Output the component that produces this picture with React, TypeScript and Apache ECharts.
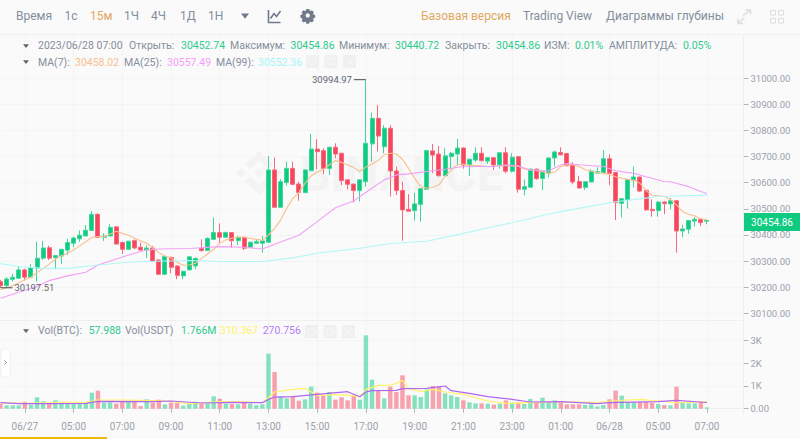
import React, { useEffect, useRef } from "react";
import * as echarts from "echarts";

const tickLabels = ["06/27","05:00","07:00","09:00","11:00","13:00","15:00","17:00","19:00","21:00","23:00","01:00","06/28","05:00","07:00"];
const priceTicks = [30100,30200,30300,30400,30500,30600,30700,30800,30900,31000];
const volumeTicks = [0,1000,2000,3000];
const lastPrice = 30454.86;

// [open, close, low, high]
const candles: number[][] = [
[30221,30205,30197.51,30228],[30206,30231,30200,30238],[30230,30238,30221,30251],[30234,30266,30231,30281],[30266,30238,30225,30271],
[30238,30275,30236,30288],[30272,30311,30221,30374],[30311,30350,30304,30377],[30351,30311,30304,30359],[30313,30321,30268,30322],
[30319,30345,30288,30346],[30342,30371,30323,30385],[30368,30388,30353,30394],[30385,30399,30374,30417],[30396,30418,30395,30438],
[30417,30479,30415,30492],[30479,30391,30390,30483],[30391,30396,30377,30406],[30396,30429,30395,30441],[30431,30365,30364,30432],
[30371,30345,30327,30374],[30345,30376,30344,30377],[30378,30350,30345,30383],[30353,30342,30341,30371],[30342,30350,30311,30360],
[30350,30298,30296,30358],[30304,30249,30247,30306],[30249,30317,30247,30320],[30314,30276,30253,30317],[30281,30245,30230,30284],
[30243,30261,30230,30262],[30266,30316,30265,30317],[30281,30310,30268,30314],[30349,30340,30336,30383],[30340,30387,30339,30391],
[30383,30409,30382,30467],[30409,30391,30370,30444],[30391,30409,30390,30413],[30409,30378,30351,30410],[30378,30391,30361,30396],
[30391,30349,30342,30393],[30353,30372,30349,30374],[30368,30374,30365,30381],[30368,30377,30332,30396],[30372,30649,30371,30702],
[30649,30506,30505,30697],[30506,30604,30505,30613],[30601,30655,30589,30681],[30655,30594,30591,30681],[30595,30563,30531,30604],
[30562,30649,30561,30651],[30646,30729,30645,30787],[30729,30719,30651,30767],[30723,30655,30633,30732],[30655,30736,30630,30738],
[30736,30710,30694,30751],[30713,30608,30591,30715],[30611,30594,30575,30612],[30595,30570,30524,30596],[30570,30611,30528,30612],
[30604,30751,30585,30994.97],[30749,30847,30681,30869],[30847,30779,30719,30898],[30738,30809,30713,30821],[30809,30645,30547,30821],
[30645,30570,30553,30662],[30570,30496,30378,30604],[30498,30491,30490,30556],[30493,30519,30455,30562],[30517,30577,30451,30578],
[30575,30723,30574,30726],[30722,30706,30636,30749],[30710,30627,30623,30741],[30627,30703,30626,30732],[30700,30713,30654,30718],
[30710,30733,30668,30768],[30733,30668,30654,30736],[30668,30690,30626,30693],[30687,30713,30680,30736],[30713,30685,30681,30736],
[30683,30696,30672,30697],[30696,30668,30649,30697],[30668,30715,30654,30716],[30715,30644,30636,30736],[30644,30698,30639,30713],
[30700,30575,30562,30701],[30575,30585,30552,30613],[30583,30652,30582,30654],[30652,30616,30611,30654],[30616,30643,30572,30646],
[30636,30695,30621,30696],[30695,30718,30662,30723],[30716,30707,30705,30736],[30712,30665,30664,30713],[30669,30603,30594,30679],
[30605,30580,30577,30626],[30582,30604,30572,30605],[30603,30645,30601,30651],[30637,30642,30636,30659],[30639,30692,30638,30725],
[30692,30636,30591,30709],[30639,30524,30457,30640],[30521,30539,30467,30540],[30536,30613,30501,30614],[30610,30622,30582,30662],
[30622,30568,30564,30623],[30571,30496,30493,30572],[30498,30493,30470,30536],[30493,30526,30470,30529],[30526,30520,30480,30529],
[30519,30531,30498,30542],[30531,30415,30332,30532],[30415,30423,30391,30439],[30422,30455,30404,30457],[30453,30460,30432,30468],
[30460,30447,30434,30464],[30452.74,30454.86,30440.72,30454.86],
];

const volumes = [220,146,146,146,307,176,498,322,234,366,234,220,220,220,220,703,790,264,278,220,293,293,293,117,410,264,395,190,264,264,132,205,307,234,234,542,439,220,205,190,264,220,146,190,2416,1610,527,454,556,351,410,966,703,586,732,395,498,366,586,395,3221,1274,790,454,966,732,1464,586,586,512,849,996,996,673,586,512,366,278,234,234,220,176,220,366,264,264,205,425,264,483,278,366,264,190,190,190,161,190,102,161,410,790,571,293,278,293,293,264,205,161,146,966,293,234,234,293,58];

const ma7 = [30190,30198,30205,30217,30228,30238,30256,30271,30288,30307,30320,30330,30342,30358,30374,30390,30394,30392,30404,30414,30406,30399,30387,30378,30368,30350,30332,30319,30312,30295,30284,30285,30291,30310,30327,30345,30368,30381,30387,30391,30391,30387,30383,30379,30400,30425,30457,30502,30540,30562,30598,30626,30642,30651,30668,30685,30678,30668,30658,30643,30660,30672,30685,30707,30713,30710,30690,30655,30617,30585,30579,30583,30592,30624,30649,30668,30672,30668,30666,30664,30662,30663,30664,30666,30664,30664,30653,30649,30646,30642,30636,30641,30662,30669,30668,30662,30651,30644,30639,30636,30632,30623,30617,30613,30610,30598,30570,30552,30550,30547,30536,30515,30489,30479,30473,30462,30458.02];

const ma25Pts = [[0,30157],[3,30180],[6,30202],[8,30225],[11,30243],[14,30257],[16,30285],[19,30308],[22,30330],[24,30342],[26,30346],[31,30348],[36,30355],[40,30353],[43,30346],[45,30364],[49,30399],[52,30451],[55,30504],[58,30530],[59,30547],[61,30579],[63,30611],[65,30630],[67,30634],[70,30643],[73,30652],[76,30662],[81,30662],[83,30668],[85,30664],[87,30649],[90,30645],[92,30668],[93,30674],[95,30669],[99,30662],[101,30646],[104,30636],[106,30623],[109,30605],[110,30604],[113,30585],[116,30557.49]];

const ma99Pts = [[0,30290],[3,30279],[7,30272],[11,30272],[16,30285],[22,30297],[31,30302],[36,30298],[43,30298],[48,30312],[52,30330],[59,30349],[64,30367],[70,30376],[76,30406],[81,30432],[86,30457],[90,30480],[94,30498],[101,30527],[105,30538],[108,30547],[116,30552.36]];

const volMaYellow = [[0,264],[5,234],[11,293],[14,264],[16,381],[20,381],[25,351],[28,322],[31,220],[36,307],[39,307],[43,264],[44,483],[45,732],[47,805],[49,878],[50,893],[52,586],[56,615],[59,527],[60,849],[62,1025],[64,1039],[65,1113],[66,1244],[67,878],[69,761],[71,849],[73,732],[76,630],[80,337],[83,234],[87,264],[92,307],[98,264],[100,337],[105,410],[108,337],[111,264],[116,310]];
const volMaPurple = [[0,264],[3,220],[8,220],[14,234],[16,322],[25,307],[28,337],[33,249],[38,278],[43,264],[44,410],[45,512],[48,527],[52,630],[57,747],[59,527],[60,732],[61,790],[65,805],[66,878],[70,893],[73,996],[74,790],[77,673],[80,527],[84,410],[87,293],[92,307],[98,220],[100,264],[108,307],[111,366],[116,271]];

// index of the candle, price, side of the flag
const extremes = [[60,30994.97,-1],[0,30197.51,1]];

const tabs = [["Время",16],["1с",64.5],["15м",90],["1Ч",124],["4Ч",151],["1Д",180],["1Н",208]];
const views = [["Базовая версия",421],["Trading View",523],["Диаграммы глубины",606]];
const ohlcRow = [["2023/06/28 07:00",38,0],["Открыть:",129,0],["30452.74",181,1],["Максимум:",230,0],["30454.86",290.5,1],["Минимум:",339,0],["30440.72",395,1],["Закрыть:",445,0],["30454.86",496,1],["ИЗМ:",544,0],["0.01%",575,1],["АМПЛИТУДА:",609,0],["0.05%",683,1]];
const maRow = [["MA(7):",38,"#848e9c"],["30458.02",75,"#f8c08d"],["MA(25):",124,"#848e9c"],["30557.49",167,"#f79df9"],["MA(99):",216,"#848e9c"],["30552.36",258,"#a6f5f5"]];
const volRow = [["Vol(BTC):",38,"#848e9c"],["57.988",88.7,"#2ecb8d"],["Vol(USDT)",125,"#848e9c"],["1.766M",181,"#2ecb8d"],["310.367",220,"#fff36a"],["270.756",262.7,"#b67cf7"]];

const GREEN = "#0ecb81";
const RED = "#f6465d";
const FONT = 'Roboto, sans-serif';

echarts.graphic.registerShape("bnbMark", echarts.graphic.extendPath("M38.73 53.2l24.59-24.58 24.6 24.6 14.3-14.31L63.32 0 24.42 38.9l14.31 14.3zM0 63.31l14.3-14.31 14.31 14.31-14.31 14.3zM38.73 73.41l24.59 24.59 24.6-24.6 14.31 14.29-38.9 38.91-38.91-38.88-.02-.02zM98 63.31l14.3-14.31 14.31 14.3-14.31 14.32zM77.83 63.3L63.32 48.78 52.59 59.51l-1.24 1.23-2.54 2.54 14.51 14.5 14.51-14.47z", {}));
echarts.graphic.registerShape("gearIcon", echarts.graphic.extendPath("M6 0h4l.5 2.2 1.4.6 1.9-1.2 2.8 2.8-1.2 1.9.6 1.4 2.2.5v4l-2.2.5-.6 1.4 1.2 1.9-2.8 2.8-1.9-1.2-1.4.6-.5 2.2h-4l-.5-2.2-1.4-.6-1.9 1.2-2.8-2.8 1.2-1.9-.6-1.4-2.2-.5v-4l2.2-.5.6-1.4-1.2-1.9 2.8-2.8 1.9 1.2 1.4-.6zM8 6a3 3 0 1 0 .01 0z", {}));

function label(x: number, y: number, text: string, fill: string, size = 10.5, extra: any = {}) {
  return { type: "text", x, y, silent: true, z: 10, style: { text, fill, font: `${size}px ${FONT}`, verticalAlign: "middle", ...extra } };
}
function square(x: number, y: number, s: number, fill = "#f0f0f0") {
  return { type: "rect", silent: true, z: 10, shape: { x, y, width: s, height: s }, style: { fill } };
}
function triangle(cx: number, cy: number, w: number, fill: string) {
  return { type: "polygon", silent: true, z: 10, shape: { points: [[cx - w / 2, cy - w * 0.3], [cx + w / 2, cy - w * 0.3], [cx, cy + w * 0.35]] }, style: { fill } };
}
function stroke(points: number[][], color: string, lineWidth = 1.5) {
  return { type: "polyline", silent: true, z: 10, shape: { points }, style: { stroke: color, fill: "none", lineWidth } };
}
function toolTrio(y: number, x: number) {
  const items: any[] = [];
  [0, 18.5, 37].forEach((dx) => items.push(square(x + dx, y, 13)));
  items.push({ type: "ellipse", silent: true, z: 11, shape: { cx: x + 6.5, cy: y + 6.5, rx: 4.5, ry: 3 }, style: { fill: "none", stroke: "#fafafa", lineWidth: 1 } });
  items.push({ type: "circle", silent: true, z: 11, shape: { cx: x + 25, cy: y + 6.5, r: 3.5 }, style: { fill: "none", stroke: "#fafafa", lineWidth: 1 } });
  items.push(stroke([[x + 40, y + 3.5], [x + 47, y + 10.5]], "#fafafa", 1));
  items.push(stroke([[x + 47, y + 3.5], [x + 40, y + 10.5]], "#fafafa", 1));
  return items;
}

const categories = Array.from({ length: 123 }, (_, i) => (i % 8 === 4 ? tickLabels[(i - 4) / 8] ?? "" : ""));
const isLabelled = (i: number) => i % 8 === 4;

const graphicElements: any[] = [
  // watermark
  { type: "bnbMark", x: 236, y: 151, scaleX: 0.365, scaleY: 0.345, silent: true, z: 0, style: { fill: "#f3f3f3" } },
  { type: "text", x: 300, y: 174, silent: true, z: 0, style: { text: "BINANCE", fill: "#f3f3f3", font: `bold 48px ${FONT}`, verticalAlign: "middle" } },
  // frames
  { type: "line", silent: true, z: 1, shape: { x1: 0, y1: 34.5, x2: 800, y2: 34.5 }, style: { stroke: "#f0f0f0" } },
  { type: "line", silent: true, z: 1, shape: { x1: 0, y1: 320.5, x2: 744, y2: 320.5 }, style: { stroke: "#efefef" } },
  { type: "line", silent: true, z: 1, shape: { x1: 743.5, y1: 34, x2: 743.5, y2: 415 }, style: { stroke: "#efefef" } },
  // tabs
  ...tabs.map(([t, x]) => label(x as number, 16, t as string, t === "15м" ? "#e0a85f" : "#848e9c", 12)),
  triangle(245, 16, 8, "#707a8a"),
  stroke([[268.5, 10], [268.5, 22.5], [280.5, 22.5]], "#707a8a", 1.6),
  stroke([[270.5, 18.5], [274, 13.5], [276.5, 16.5], [280.5, 11]], "#707a8a", 1.6),
  { type: "gearIcon", x: 302, y: 9, scaleX: 0.72, scaleY: 0.72, silent: true, z: 10, style: { fill: "#707a8a" } },
  ...views.map(([t, x]) => label(x as number, 16, t as string, t === "Базовая версия" ? "#e0a85f" : "#848e9c", 12)),
  // expand + grid icons
  stroke([[743, 15.5], [750, 10.5]], "#dcdcdc", 1.5),
  stroke([[745.5, 10], [750.5, 10], [750.5, 14.5]], "#dcdcdc", 1.5),
  stroke([[738, 23], [744.5, 18]], "#dcdcdc", 1.5),
  stroke([[738, 18.5], [738, 23.5], [743, 23.5]], "#dcdcdc", 1.5),
  ...[[770.5, 10.5], [778.5, 10.5], [770.5, 18.5], [778.5, 18.5]].map(([x, y]) => ({ type: "rect", silent: true, z: 10, shape: { x, y, width: 5, height: 4.5 }, style: { fill: "none", stroke: "#dcdcdc", lineWidth: 1 } })),
  // legend rows
  triangle(26, 46, 6, "#5e6673"),
  ...ohlcRow.map(([t, x, v]) => label(x as number, 45, t as string, v ? "#2ecb8d" : "#848e9c")),
  triangle(26, 62, 6, "#5e6673"),
  ...maRow.map(([t, x, c]) => label(x as number, 62, t as string, c as string)),
  ...toolTrio(55, 306),
  triangle(26, 331, 6, "#5e6673"),
  ...volRow.map(([t, x, c]) => label(x as number, 330.5, t as string, c as string)),
  ...toolTrio(325, 305),
  // collapse handle
  { type: "rect", silent: true, z: 10, shape: { x: 1, y: 349, width: 9.5, height: 28, r: 2 }, style: { fill: "#ffffff", stroke: "#f0f0f0" } },
  stroke([[4.5, 360.5], [6.5, 362.5], [4.5, 364.5]], "#848e9c", 1),
  // last price tag
  { type: "rect", silent: true, z: 10, shape: { x: 744, y: 213, width: 56, height: 18 }, style: { fill: "#0ecb81" } },
  label(772, 222, String(lastPrice), "#ffffff", 10, { align: "center" }),
  // bottom strip
  { type: "rect", silent: true, z: 10, shape: { x: 0, y: 437, width: 107, height: 2 }, style: { fill: "#f0b90b" } },
];

function pointFlag(params: any, api: any) {
  const side = api.value(2);
  const p = api.coord([api.value(0), api.value(1)]);
  const end = p[0] + side * 12;
  return {
    type: "group",
    children: [
      { type: "line", shape: { x1: p[0], y1: p[1], x2: end, y2: p[1] }, style: { stroke: "#474d57", lineWidth: 1 } },
      { type: "text", x: end + side * 2, y: p[1], style: { text: api.value(1).toFixed(2), fill: "#5e6673", font: `9.5px ${FONT}`, align: side > 0 ? "left" : "right", verticalAlign: "middle" } },
    ],
  };
}

const lineSeries = (name: string, data: any, color: string, x: number, w = 1.1) => ({
  name, type: "line", data, xAxisIndex: x, yAxisIndex: x, symbol: "none", silent: true, z: 5,
  clip: false, lineStyle: { color, width: w },
});

const gridColor = "#f4f4f4";

function buildOption(): any {
  return {
    animation: false,
    backgroundColor: "#fafafa",
    textStyle: { fontFamily: FONT },
    grid: [
      { left: 0.5, right: 56.5, top: 34, height: 286 },
      { left: 0.5, right: 56.5, top: 320.5, height: 94.5 },
    ],
    xAxis: [
      {
        type: "category", gridIndex: 0, data: categories, boundaryGap: false,
        axisLine: { show: false }, axisTick: { show: false }, axisLabel: { show: false },
        splitLine: { show: true, interval: (i: number) => isLabelled(i), lineStyle: { color: gridColor } },
      },
      {
        type: "category", gridIndex: 1, data: categories, boundaryGap: false,
        axisLine: { show: true, lineStyle: { color: "#efefef" } },
        axisTick: { show: true, length: 4, interval: (i: number) => isLabelled(i), lineStyle: { color: "#aeb4bc" } },
        axisLabel: { show: true, margin: 6, fontSize: 10, color: "#9aa1ab", interval: (i: number) => isLabelled(i), fontFamily: FONT },
        splitLine: { show: true, interval: (i: number) => isLabelled(i), lineStyle: { color: gridColor } },
      },
    ],
    yAxis: [
      {
        type: "value", gridIndex: 0, position: "right", scale: true, min: 30074, max: 31170,
        axisLine: { show: false },
        axisTick: { show: true, length: 5, lineStyle: { color: "#aeb4bc" }, customValues: priceTicks },
        axisLabel: { show: true, margin: 7, fontSize: 9.5, color: "#9aa1ab", customValues: priceTicks, formatter: (v: number) => v.toFixed(2), fontFamily: FONT },
        splitLine: { show: true, lineStyle: { color: gridColor }, customValues: priceTicks },
      },
      {
        type: "value", gridIndex: 1, position: "right", min: -277, max: 3873,
        axisLine: { show: false },
        axisTick: { show: true, length: 5, lineStyle: { color: "#aeb4bc" }, customValues: volumeTicks },
        axisLabel: { show: true, margin: 7, fontSize: 9.5, color: "#9aa1ab", customValues: volumeTicks, formatter: (v: number) => (v === 0 ? "0.00" : `${v / 1000}K`), fontFamily: FONT },
        splitLine: { show: true, lineStyle: { color: gridColor }, customValues: volumeTicks },
      },
    ],
    graphic: { elements: graphicElements },
    series: [
      {
        name: "BTCUSDT", type: "candlestick", xAxisIndex: 0, yAxisIndex: 0, data: candles, barWidth: 4.5, clip: false, z: 4, silent: true,
        itemStyle: { color: GREEN, color0: RED, borderColor: "#3fd69b", borderColor0: "#f8697c", borderWidth: 1 },
      },
      lineSeries("MA(7)", ma7.map((v, i) => [i, v]), "#f8c08d", 0),
      lineSeries("MA(25)", ma25Pts, "#f2a0f6", 0),
      lineSeries("MA(99)", ma99Pts, "#b2f7f7", 0),
      { name: "flags", type: "custom", xAxisIndex: 0, yAxisIndex: 0, data: extremes, renderItem: pointFlag, clip: false, z: 6, silent: true },
      {
        name: "Vol", type: "bar", xAxisIndex: 1, yAxisIndex: 1, barWidth: 4.4, silent: true, z: 3,
        data: volumes.map((v, i) => ({
          value: v,
          itemStyle: { color: candles[i][1] >= candles[i][0] ? "rgba(14,203,129,0.5)" : "rgba(246,70,93,0.5)" },
        })),
      },
      lineSeries("Vol MA yellow", volMaYellow, "#fff36a", 1, 1.2),
      lineSeries("Vol MA purple", volMaPurple, "#b166f2", 1, 1.2),
    ],
  };
}

export default function App() {
  const ref = useRef<HTMLDivElement>(null);
  useEffect(() => {
    document.body.style.margin = "0";
    document.body.style.background = "#fafafa";
    const chart = echarts.init(ref.current!, undefined, { renderer: "svg" });
    chart.setOption(buildOption());
    return () => chart.dispose();
  }, []);
  return <div ref={ref} style={{ width: 800, height: 439 }} />;
}
